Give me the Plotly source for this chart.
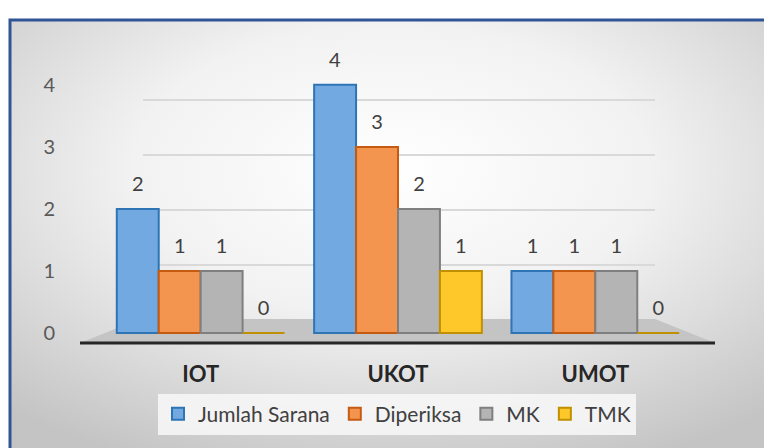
import base64
import plotly.graph_objects as go

categories = ["IOT", "UKOT", "UMOT"]
series_names = ["Jumlah Sarana", "Diperiksa", "MK", "TMK"]
jumlah_sarana = [2, 4, 1]
diperiksa = [1, 3, 1]
mk = [1, 2, 1]
tmk = [0, 1, 0]
y_ticks = [0, 1, 2, 3, 4]

values = [jumlah_sarana, diperiksa, mk, tmk]
fill_colors = ["#72A9E0", "#F4954F", "#B4B4B4", "#FFC82A"]
line_colors = ["#2E75B6", "#C55A11", "#7F7F7F", "#BF9000"]

# page has an 8px body margin; figure is sized to fit the 772x448 window
OFF = 8
W, H = 772 - OFF, 448 - OFF
ML, MR, MT, MB = 102 - OFF, 78, 60 - OFF, 105
pw, ph = W - ML - MR, H - MT - MB

FONT = "Lato"

def label(v):
    # value label raised a little above the bar top (3D look)
    return ("<span style='font-size:20px'>%s</span><br>"
            "<span style='fill:rgba(0,0,0,0)'>.</span>" % v)

fig = go.Figure()
# empty trace carrying the back-wall gridline axes (first subplot, drawn underneath)
fig.add_trace(go.Scatter(x=[], y=[], xaxis="x", yaxis="y", showlegend=False))

for name, vals, fc, lc in zip(series_names, values, fill_colors, line_colors):
    fig.add_trace(go.Bar(
        name=name, x=categories, y=vals, xaxis="x2", yaxis="y2",
        marker=dict(color=fc, line=dict(color=lc, width=2)),
        text=[label(v) for v in vals], textposition="outside",
        textfont=dict(family=FONT, size=10, color="#404040"),
        cliponaxis=False, hoverinfo="x+y+name",
    ))

svg = (
    '<svg xmlns="http://www.w3.org/2000/svg" width="762" height="428">'
    '<defs><radialGradient id="g" cx="50%" cy="35%" r="75%">'
    '<stop offset="0" stop-color="#ffffff"/><stop offset="0.45" stop-color="#f2f2f2"/>'
    '<stop offset="1" stop-color="#c4c4c4"/></radialGradient></defs>'
    '<rect width="762" height="428" fill="url(#g)"/></svg>'
)
src = "data:image/svg+xml;base64," + base64.b64encode(svg.encode()).decode()

def px_x(px):
    return (px - OFF - ML) / pw

def px_y(py):
    return 1 - (py - OFF - MT) / ph

# back wall: 0 at y=320px, 55px per unit
wall_lo = -(343 - 320) / 55
wall_hi = (320 - 60) / 55

floor_path = "M %f %f L %f %f L %f %f L %f %f Z" % (
    px_x(80), px_y(343), px_x(715), px_y(343),
    px_x(655), px_y(319), px_x(140), px_y(319))

fig.update_layout(
    width=W, height=H,
    margin=dict(l=ML, r=MR, t=MT, b=MB, autoexpand=False),
    paper_bgcolor="white", plot_bgcolor="rgba(0,0,0,0)",
    barmode="group", bargap=0.15, bargroupgap=0,
    font=dict(family=FONT, color="#404040"),
    showlegend=True,
    legend=dict(
        orientation="h", x=(397 - OFF) / W, xanchor="center", xref="container",
        y=1 - (414 - OFF) / H, yanchor="middle", yref="container",
        bgcolor="rgba(246,246,246,0.9)",
        font=dict(family=FONT, size=21, color="#404040"),
        itemwidth=30, tracegroupgap=0,
    ),
    images=[dict(
        source=src, xref="paper", yref="paper",
        x=px_x(10), y=px_y(20),
        sizex=(772 - 10) / pw, sizey=(448 - 20) / ph,
        sizing="stretch", xanchor="left", yanchor="top", layer="below",
    )],
    shapes=[
        dict(type="path", xref="paper", yref="paper", layer="below",
             path=floor_path, fillcolor="#C4C4C4", line=dict(width=0)),
        dict(type="line", xref="paper", yref="paper", layer="below",
             x0=px_x(80), x1=px_x(715), y0=px_y(343), y1=px_y(343),
             line=dict(color="#262626", width=3)),
        dict(type="rect", xref="paper", yref="paper", layer="above",
             x0=px_x(10), x1=px_x(772 + 5), y0=px_y(448 + 5), y1=px_y(20),
             line=dict(color="#2F5597", width=3), fillcolor="rgba(0,0,0,0)"),
    ],
    xaxis=dict(
        domain=[px_x(143), px_x(655)], anchor="y", range=[0, 1],
        showgrid=False, showticklabels=False, zeroline=False, showline=False,
        ticks="", fixedrange=True,
    ),
    yaxis=dict(
        anchor="x", range=[wall_lo, wall_hi], tickvals=y_ticks[1:],
        showgrid=True, gridcolor="#D9D9D9", gridwidth=2,
        showticklabels=False, zeroline=False, showline=False, ticks="",
        fixedrange=True,
    ),
    xaxis2=dict(
        domain=[0, 1], anchor="y2",
        showgrid=False, showline=False, zeroline=False,
        ticks="", ticklabelstandoff=16,
        tickfont=dict(family=FONT, size=22, color="#262626", weight="bold"),
    ),
    yaxis2=dict(
        domain=[0, 1], anchor="x2",
        range=[-0.16, 4.4], tickvals=y_ticks, ticktext=[str(t) for t in y_ticks],
        showgrid=False, zeroline=False, showline=False, ticks="",
        ticklabelstandoff=46,
        tickfont=dict(family=FONT, size=20, color="#595959"),
    ),
)

fig.write_html("out.html")
